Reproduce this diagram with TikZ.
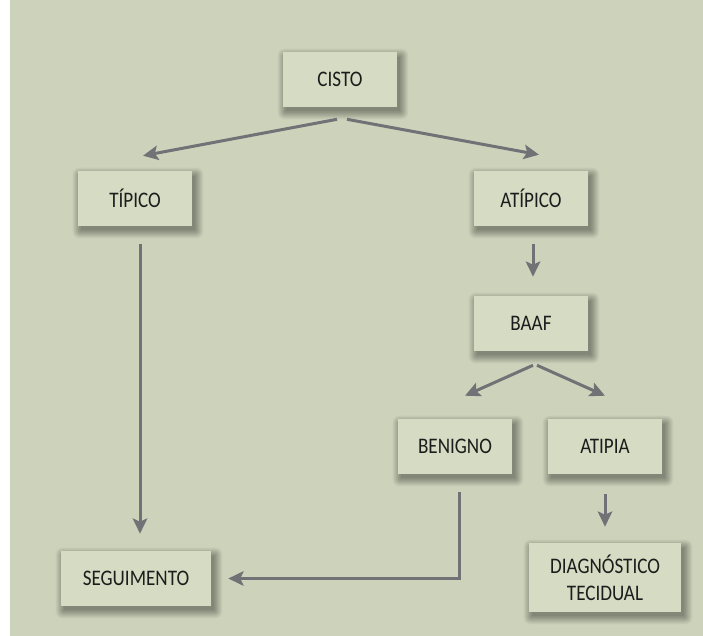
\documentclass[tikz,border=0pt]{standalone}
\usepackage{fontspec}
\newfontfamily\boxfont[FakeStretch=0.86]{Carlito}
\usepackage{tikz}
\usetikzlibrary{positioning,arrows.meta,calc}
\definecolor{pagebg}{RGB}{205, 211, 187}
\definecolor{boxfill}{RGB}{214, 219, 195}
\definecolor{arrowgray}{RGB}{112, 114, 118}
\definecolor{textdark}{RGB}{28, 28, 28}
\pgfdeclarelayer{back}
\pgfdeclarelayer{shade}
\pgfsetlayers{back,shade,main}

\begin{document}
\begin{tikzpicture}[
    x=0.025cm, y=-0.025cm,
    font=\boxfont\fontsize{15.8}{19.1}\selectfont,
    stage/.style={
        rectangle,
        minimum width=#1, minimum height=1.375cm,
        inner sep=0pt, align=center,
        text=textdark,
        fill=boxfill
    },
    stage/.default=2.85cm,
    flow/.style={
        -{Stealth[length=0.38cm, width=0.36cm, inset=0.08cm]},
        line width=0.075cm,
        color=arrowgray
    }
]

% Page and background
\begin{pgfonlayer}{back}
\fill[white] (0,0) rectangle (703,636);
\fill[pagebg] (10,0) rectangle (703,636);
\end{pgfonlayer}
\useasboundingbox (0,0) rectangle (703,636);

% Top level
\node[stage] at (340, 79.5) (cisto) {CISTO};

% Second level
\node[stage] at (135, 198.5) (tipico) {TÍPICO};
\node[stage] at (531, 198.5) (atipico) {ATÍPICO};

% Puncture
\node[stage] at (531, 323.5) (baaf) {BAAF};

% Results
\node[stage] at (455, 446.5) (benigno) {BENIGNO};
\node[stage] at (605, 446.5) (atipia) {ATIPIA};

% Outcomes
\node[stage=3.8cm, minimum height=1.725cm] at (605, 577.5) (diag) {DIAGNÓSTICO\\TECIDUAL};
\node[stage=3.75cm] at (136, 578.5) (segui) {SEGUIMENTO};

% Soft shadows under the boxes
\begin{pgfonlayer}{shade}
\foreach \n in {cisto,tipico,atipico,baaf,benigno,atipia,diag,segui}
  \foreach \g in {9,...,0} {
    \pgfmathtruncatemacro\p{(9-\g)*4}
    \fill[black!\p!pagebg, rounded corners=\g*0.6pt]
      ($(\n.north west)+(3-\g,5-\g)$) rectangle ($(\n.south east)+(3+\g,4+\g)$);
  }
\end{pgfonlayer}

% === CONNECTIONS ===
\draw[flow] ($(cisto.south)+(-3,12)$) -- ($(tipico.north)+(8,-15)$);
\draw[flow] ($(cisto.south)+(7,12)$) -- ($(atipico.north)+(8,-16)$);
\draw[flow] ($(tipico.south)+(5,18)$) -- ($(segui.north)+(4,-17)$);
\draw[flow] ($(atipico.south)+(2,18)$) -- ($(baaf.north)+(2,-19)$);
\draw[flow] ($(baaf.south)+(2,14)$) -- ($(benigno.north)+(10,-23)$);
\draw[flow] ($(baaf.south)+(6,14)$) -- ($(atipia.north)+(0,-23)$);
\draw[flow] ($(atipia.south)+(0,20)$) -- ($(diag.north)+(0,-16)$);
\draw[flow] ($(benigno.south)+(4,18)$) |- ($(segui.east)+(17,0)$);

\end{tikzpicture}
\end{document}
